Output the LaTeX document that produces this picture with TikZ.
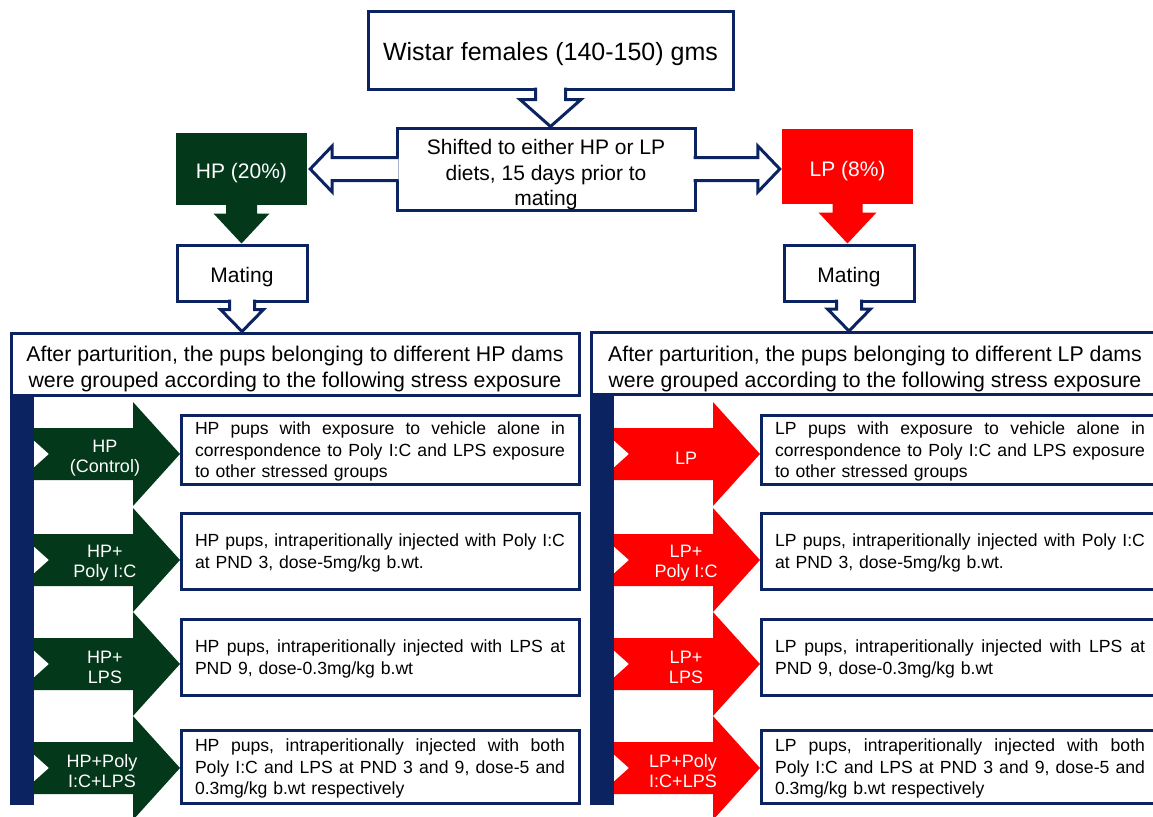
\documentclass[tikz,border=0pt]{standalone}
\usepackage{fontspec}
\setmainfont{Liberation Sans}
\usetikzlibrary{calc}
\definecolor{navy}{RGB}{12,35,98}
\definecolor{hpgreen}{RGB}{3,56,26}
\definecolor{lpred}{RGB}{255,0,0}
\newcommand\jline[1]{\leavevmode\hbox to 370pt{\frenchspacing\spaceskip=\fontdimen2\font plus 1fil\relax #1}\\}
\newcommand\tpad[1]{\rule{0pt}{#1pt}}
% notched group arrow: #1 x offset, #2 centre y, #3 colour
\newcommand\grparrow[3]{\fill[#3] ({#1+20},{#2-26}) -- ({#1+133},{#2-26}) -- ({#1+133},{#2-52}) -- ({#1+180},{#2}) -- ({#1+133},{#2+52}) -- ({#1+133},{#2+26}) -- ({#1+20},{#2+26}) -- ({#1+49},{#2}) -- cycle;}
% hollow block arrow pointing down: #1 start, #2 tip, #3 shaft half, #4 head half, #5 head length
\newcommand\hollowdown[5]{%
  \fill[white] ($(#1)+(-#3,-3)$) -- ($(#2)+(-#3,-#5)$) -- ($(#2)+(-#4,-#5)$) -- (#2) -- ($(#2)+(#4,-#5)$) -- ($(#2)+(#3,-#5)$) -- ($(#1)+(#3,-3)$) -- cycle;
  \draw[hollow] ($(#1)+(-#3,-3)$) -- ($(#2)+(-#3,-#5)$) -- ($(#2)+(-#4,-#5)$) -- (#2) -- ($(#2)+(#4,-#5)$) -- ($(#2)+(#3,-#5)$) -- ($(#1)+(#3,-3)$);}
% solid block arrow pointing down: #6 colour
\newcommand\soliddown[6]{%
  \fill[#6] ($(#1)+(-#3,-2)$) -- ($(#2)+(-#3,-#5)$) -- ($(#2)+(-#4,-#5)$) -- (#2) -- ($(#2)+(#4,-#5)$) -- ($(#2)+(#3,-#5)$) -- ($(#1)+(#3,-2)$) -- cycle;}
% hollow horizontal block arrow: #1 start, #2 tip, #3 direction (1 = points left, -1 = points right)
\newcommand\hollowh[3]{%
  \fill[white] ($(#1)+({#3*3},-11.5)$) -- ($(#2)+({#3*22},-11.5)$) -- ($(#2)+({#3*22},-23)$) -- (#2) -- ($(#2)+({#3*22},23)$) -- ($(#2)+({#3*22},11.5)$) -- ($(#1)+({#3*3},11.5)$) -- cycle;
  \draw[hollow] ($(#1)+({#3*3},-11.5)$) -- ($(#2)+({#3*22},-11.5)$) -- ($(#2)+({#3*22},-23)$) -- (#2) -- ($(#2)+({#3*22},23)$) -- ($(#2)+({#3*22},11.5)$) -- ($(#1)+({#3*3},11.5)$);}

\begin{document}
\begin{tikzpicture}[x=1pt,y=-1pt,
  box/.style={draw=navy,line width=3pt,fill=white,inner sep=0pt,align=center},
  colbox/.style={inner sep=0pt,text=white,align=center,font=\fontsize{21}{25}\selectfont},
  hdr/.style={box,minimum width=568pt,minimum height=62pt,font=\fontsize{21.3}{26}\selectfont},
  matbox/.style={box,minimum width=130pt,minimum height=56pt,font=\fontsize{21}{25}\selectfont},
  desc/.style={draw=navy,line width=3pt,fill=white,inner xsep=14pt,inner ysep=0pt,text width=370pt,align=left,font=\fontsize{17.6}{21.5}\selectfont},
  glabel/.style={text=white,align=center,font=\fontsize{18}{20.5}\selectfont,inner sep=0pt},
  hollow/.style={draw=navy,line width=3pt,miter limit=10},
  ]
\useasboundingbox (0,0) rectangle (1153,816);
\clip (0,0) rectangle (1153,816);
\fill[white] (0,0) rectangle (1153,816);

% top part
\node[box,minimum width=365pt,minimum height=77pt,font=\fontsize{25}{30}\selectfont] (top) at (550.5,50.5) {\tpad{26}Wistar females (140-150) gms};
\node[box,minimum width=298pt,minimum height=82pt,font=\fontsize{21}{25.5}\selectfont] (shift) at (546,169) {\tpad{26.5}Shifted to either HP or LP\\diets, 15 days prior to\\mating};
\node[colbox,fill=hpgreen,minimum width=131pt,minimum height=72pt] (hp) at (241.5,169) {\tpad{23.5}HP (20\%)};
\node[colbox,fill=lpred,minimum width=131pt,minimum height=75pt] (lp) at (847.5,166.5) {\tpad{23.5}LP (8\%)};
\node[matbox] (matL) at (242,273) {\tpad{23.5}Mating};
\node[matbox] (matR) at (849,273) {\tpad{23.5}Mating};
\node[hdr] (hdrL) at (295,364) {\tpad{25.5}After parturition, the pups belonging to different HP dams\\were grouped according to the following stress exposure};
\node[hdr] (hdrR) at (875,363.5) {\tpad{25.5}After parturition, the pups belonging to different LP dams\\were grouped according to the following stress exposure};

% connectors of the top part
\coordinate (a1) at (top.south |- shift.north);
\hollowdown{top.south}{a1}{15}{30.5}{27}
\coordinate (a2) at ($(hp.east |- shift.west)+(3,0)$);
\hollowh{shift.west}{a2}{1}
\coordinate (a3) at ($(lp.west |- shift.east)+(-2,0)$);
\hollowh{shift.east}{a3}{-1}
\coordinate (a4) at (hp.south |- matL.north);
\soliddown{hp.south}{a4}{15.5}{28}{30}{hpgreen}
\coordinate (a5) at (lp.south |- matR.north);
\soliddown{lp.south}{a5}{15}{29}{31}{lpred}
\coordinate (a6) at (matL.south |- hdrL.north);
\hollowdown{matL.south}{a6}{12.5}{21.5}{22}
\coordinate (a7) at (matR.south |- hdrR.north);
\hollowdown{matR.south}{a7}{12.5}{21.5}{22}

% group arrows
\grparrow{0}{454}{hpgreen}
\grparrow{0}{560}{hpgreen}
\grparrow{0}{664}{hpgreen}
\grparrow{0}{768}{hpgreen}
\grparrow{580}{454}{lpred}
\grparrow{580}{560}{lpred}
\grparrow{580}{664}{lpred}
\grparrow{580}{768}{lpred}

% vertical bars
\fill[navy] (10,394) rectangle (34,805);
\fill[navy] (590,394) rectangle (614,805);

% group labels
\node[glabel] (gL1) at (105,455) {\tpad{19}HP\\(Control)};
\node[glabel] (gL2) at (105,560) {\tpad{19}HP+\\Poly I:C};
\node[glabel] (gL3) at (105,664) {\tpad{19}HP+\\LPS};
\node[glabel] (gL4) at (102,768) {\tpad{19}HP+Poly\\I:C+LPS};
\node[glabel] (gR1) at (686,455) {\tpad{19}LP};
\node[glabel] (gR2) at (686,560) {\tpad{19}LP+\\Poly I:C};
\node[glabel] (gR3) at (686,664) {\tpad{19}LP+\\LPS};
\node[glabel] (gR4) at (683,768) {\tpad{19}LP+Poly\\I:C+LPS};

% descriptions
\node[desc,minimum height=69pt] (dL1) at (380,449.5) {\jline{\tpad{17}HP pups with exposure to vehicle alone in}\jline{correspondence to Poly I:C and LPS exposure}to other stressed groups};
\node[desc,minimum height=76pt] (dL2) at (380,551) {\jline{\tpad{17}HP pups, intraperitionally injected with Poly I:C}at PND 3, dose-5mg/kg b.wt.};
\node[desc,minimum height=76pt] (dL3) at (380,657) {\jline{\tpad{17}HP pups, intraperitionally injected with LPS at}PND 9, dose-0.3mg/kg b.wt};
\node[desc,minimum height=73pt] (dL4) at (380,766.5) {\jline{\tpad{17}HP pups, intraperitionally injected with both}\jline{Poly I:C and LPS at PND 3 and 9, dose-5 and}0.3mg/kg b.wt respectively};

\node[desc,minimum height=69pt] (dR1) at (960,449.5) {\jline{\tpad{17}LP pups with exposure to vehicle alone in}\jline{correspondence to Poly I:C and LPS exposure}to other stressed groups};
\node[desc,minimum height=76pt] (dR2) at (960,551) {\jline{\tpad{17}LP pups, intraperitionally injected with Poly I:C}at PND 3, dose-5mg/kg b.wt.};
\node[desc,minimum height=76pt] (dR3) at (960,657) {\jline{\tpad{17}LP pups, intraperitionally injected with LPS at}PND 9, dose-0.3mg/kg b.wt};
\node[desc,minimum height=73pt] (dR4) at (960,766.5) {\jline{\tpad{17}LP pups, intraperitionally injected with both}\jline{Poly I:C and LPS at PND 3 and 9, dose-5 and}0.3mg/kg b.wt respectively};
\end{tikzpicture}
\end{document}
